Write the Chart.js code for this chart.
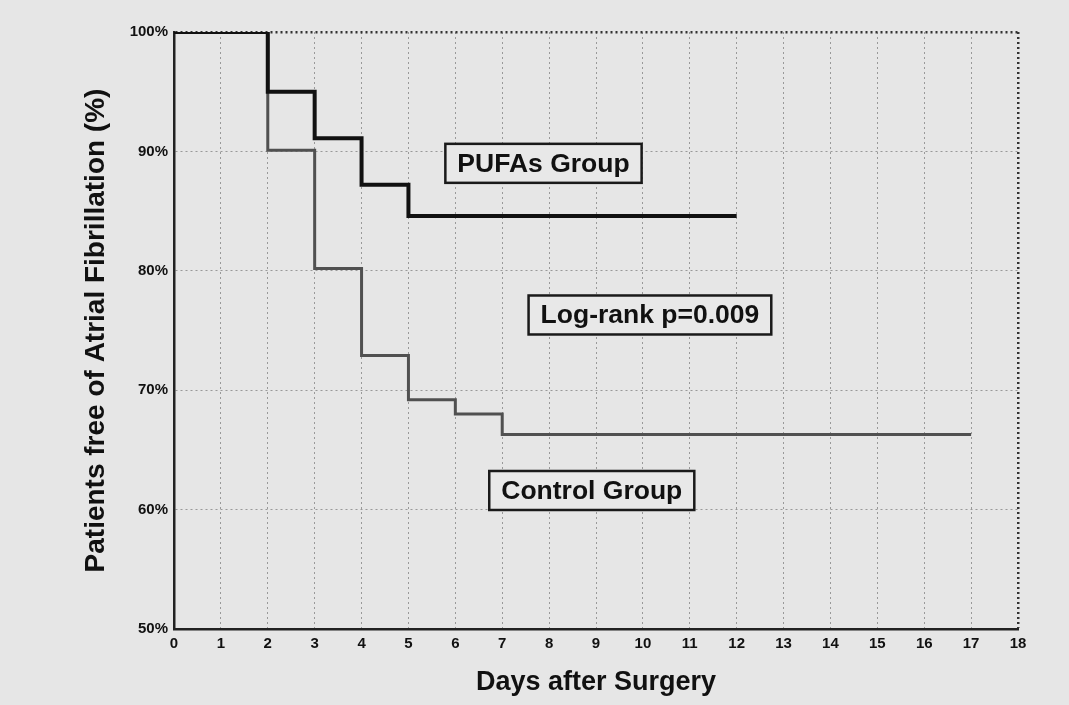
<!DOCTYPE html>
<html>
<head>
<meta charset="utf-8">
<script src="https://cdn.jsdelivr.net/npm/chart.js@4/dist/chart.umd.min.js"></script>
<style>
  html, body { margin: 0; padding: 0; background: #e6e6e6; }
  #wrap { width: 1069px; height: 705px; }
</style>
</head>
<body>
<div id="wrap"><canvas id="canvas" width="1069" height="705"></canvas></div>
<script>
'use strict';

// Kaplan-Meier steps
const pufaDays = [0, 2, 3, 4, 5, 12];
const pufaFree = [100, 95, 91.1, 87.2, 84.6, 84.6];

const controlDays = [0, 2, 3, 4, 5, 6, 7, 17];
const controlFree = [100, 90.1, 80.2, 72.9, 69.2, 68.0, 66.3, 66.3];

const dayTicks = [0, 18];      // x range
const percentTicks = [50, 100]; // y range

// boxed notes, anchored in data units (day, percent)
const noteTexts = ['PUFAs Group', 'Log-rank p=0.009', 'Control Group'];
const noteDays = [7.88, 10.15, 8.91];
const notePercents = [89.0, 76.3, 61.6];

const fontFamily = '"Liberation Sans", Arial, Helvetica, sans-serif';

function toPoints(xs, ys) {
  const pts = [];
  for (let i = 0; i < xs.length; i++) {
    pts.push({x: xs[i], y: ys[i]});
  }
  return pts;
}

const notesPlugin = {
  id: 'notes',
  afterDatasetsDraw(chart) {
    const ctx = chart.ctx;
    const xScale = chart.scales.x;
    const yScale = chart.scales.y;
    ctx.save();
    ctx.font = 'bold 26.5px ' + fontFamily;
    ctx.textAlign = 'center';
    ctx.textBaseline = 'middle';
    for (let i = 0; i < noteTexts.length; i++) {
      const cx = xScale.getPixelForValue(noteDays[i]);
      const cy = yScale.getPixelForValue(notePercents[i]);
      const w = ctx.measureText(noteTexts[i]).width + 24;
      const h = 39;
      ctx.fillStyle = '#e8e8e8';
      ctx.fillRect(cx - w / 2, cy - h / 2, w, h);
      ctx.lineWidth = 2.5;
      ctx.strokeStyle = '#1a1a1a';
      ctx.strokeRect(cx - w / 2, cy - h / 2, w, h);
      ctx.fillStyle = '#111';
      ctx.fillText(noteTexts[i], cx, cy + 1);
    }
    ctx.restore();
  }
};

const ctx = document.getElementById('canvas').getContext('2d');
new Chart(ctx, {
  type: 'line',
  data: {
    datasets: [{
      label: 'PUFAs Group',
      data: toPoints(pufaDays, pufaFree),
      stepped: 'before',
      borderColor: '#111',
      borderWidth: 4,
      pointRadius: 0,
      fill: false
    },
    {
      label: 'Control Group',
      data: toPoints(controlDays, controlFree),
      stepped: 'before',
      borderColor: '#505050',
      borderWidth: 3,
      pointRadius: 0,
      fill: false
    }]
  },
  options: {
    animation: false,
    responsive: false,
    layout: { padding: { top: 32, right: 51, bottom: 0, left: 0 } },
    plugins: {
      legend: { display: false },
      tooltip: { enabled: false }
    },
    scales: {
      x: {
        type: 'linear',
        min: dayTicks[0],
        max: dayTicks[1],
        afterFit: (scale) => { scale.height = 76; },
        ticks: {
          stepSize: 1,
          padding: 6,
          color: '#111',
          font: { family: fontFamily, size: 15, weight: 'bold' }
        },
        grid: {
          drawTicks: false,
          color: (c) => c.tick && c.tick.value === dayTicks[1] ? '#333' : '#999',
          lineWidth: (c) => c.tick && c.tick.value === dayTicks[1] ? 2.5 : 1
        },
        border: { display: true, color: '#222', width: 2.5, dash: [2, 3] },
        title: {
          display: true,
          text: 'Days after Surgery',
          color: '#111',
          padding: { top: 0, bottom: 6 },
          font: { family: fontFamily, size: 27, weight: 'bold' }
        }
      },
      y: {
        min: percentTicks[0],
        max: percentTicks[1],
        afterFit: (scale) => { scale.width = 174; },
        ticks: {
          stepSize: 10,
          padding: 6,
          color: '#111',
          font: { family: fontFamily, size: 15, weight: 'bold' },
          callback: (v) => v + '%'
        },
        grid: {
          drawTicks: false,
          color: (c) => c.tick && c.tick.value === percentTicks[1] ? '#333' : '#999',
          lineWidth: (c) => c.tick && c.tick.value === percentTicks[1] ? 2.5 : 1
        },
        border: { display: true, color: '#222', width: 2.5, dash: [2, 3] },
        title: {
          display: true,
          text: 'Patients free of Atrial Fibrillation (%)',
          color: '#111',
          padding: { top: 79, bottom: 0 },
          font: { family: fontFamily, size: 28, weight: 'bold' }
        }
      }
    }
  },
  plugins: [notesPlugin]
});
</script>
</body>
</html>
